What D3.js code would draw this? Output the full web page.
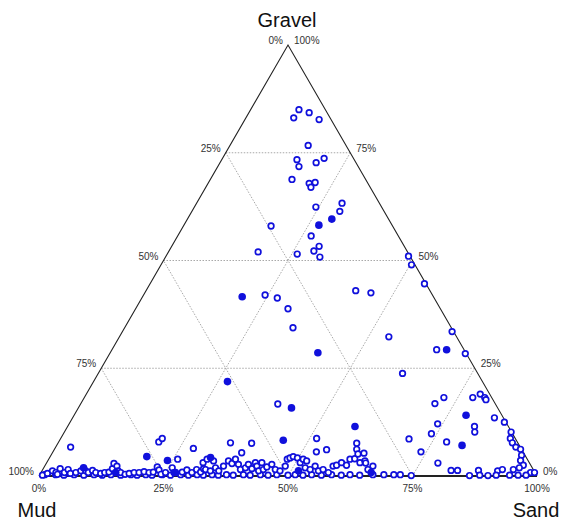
<!DOCTYPE html>
<html>
<head>
<meta charset="utf-8">
<script src="https://cdn.jsdelivr.net/npm/d3@7/dist/d3.min.js"></script>
<style>
  html, body { margin: 0; padding: 0; background: #fff; }
  svg { display: block; }
  text { font-family: "Liberation Sans", Arial, sans-serif; }
</style>
</head>
<body>
<svg id="chart" width="561" height="521"></svg>
<script>
// Sample compositions as [sand %, gravel %]; mud % = 100 - sand - gravel.
const openUpper = [
  [9.7,85.0],[12.1,84.3],[9.6,83.1],[14.9,82.7],[15.7,76.7],[15.1,73.4],[16.3,71.8],
  [19.3,72.7],[20.4,73.7],[16.4,68.8],[20.3,67.9],[21.4,68.1],[21.1,67.0],[29.2,63.3],
  [29.7,61.4],[24.4,62.4],[17.6,58.0],[26.8,55.7],[29.6,53.3],[29.1,52.2],[31.0,50.8],
  [26.1,51.5],[18.0,52.0],[24.4,42.0],[27.2,41.3],[30.6,38.8],[33.8,34.4],[42.1,43.0],
  [45.4,42.5]
];
const openSandSide = [
  [48.7,51.0],[50.3,49.0],[55.1,44.6],[66.2,33.5],[71.4,28.4],[54.1,32.3],[65.2,29.3],
  [61.1,23.8],[71.1,16.8],[72.2,18.2],[78.0,18.2],[79.1,19.0],[80.4,18.2],[80.9,17.7],
  [84.7,13.5],[87.2,12.5],[74.0,12.1],[73.9,9.8],[81.7,11.5],[82.4,10.2],[70.0,8.6],
  [77.9,7.9],[73.9,5.6],[78.6,3.0],[89.7,10.2],[90.3,8.7],[91.2,7.7],[92.4,6.7],
  [93.6,6.2],[94.5,4.8],[94.9,3.6],[96.0,2.5],[82.1,1.3],[83.4,1.3],[87.6,1.3],
  [91.5,1.2],[92.3,1.5],[94.5,1.5],[95.5,1.9],[98.3,0.8],[99.1,0.8],[66.9,0.3],
  [69.1,0.3],[71.1,0.3],[72.4,0.3],[74.7,0.1],[86.4,0.1],[88.4,0.2],[90.1,0.1],
  [91.7,0.2],[94.4,0.2],[96.1,0.2],[97.7,0.2]
];
const openMiddle = [
  [39.6,16.7],[51.4,8.7],[52.9,5.6],[54.7,6.1],[60.0,7.6],[60.7,6.2],[61.5,5.1],
  [62.6,5.3],[64.1,3.0],[38.9,7.6],[34.6,7.7],[38.0,5.4],[27.8,6.4],[25.9,3.9],
  [20.1,7.9],[20.4,8.7],[3.0,6.7]
];
const openMudSide = [
  [0.6,0.2],[1.4,0.6],[2.1,1.2],[3.0,0.8],[3.4,1.7],[3.5,0.4],[4.7,0.8],[5.1,1.5],
  [6.0,0.6],[7.0,0.8],[7.8,1.2],[8.8,1.2],[9.5,0.8],[10.1,1.3],[11.0,0.8],[12.1,0.6],
  [12.8,0.8],[13.6,0.9],[13.9,1.7],[13.6,2.9],[14.5,2.3],[15.3,1.2],[16.0,0.8],
  [17.1,0.4],[17.8,0.6],[18.7,0.8],[19.7,0.8],[20.6,1.0],[21.7,0.8],[22.5,0.9],
  [22.7,2.1],[23.4,1.4],[24.3,0.4],[25.0,0.8],[25.8,1.9],[26.7,0.8],[28.3,0.9],
  [29.0,1.4],[30.3,0.8],[30.9,1.5],[32.0,0.9],[32.2,1.7],
  [31.4,3.1],[31.8,3.9],[33.3,3.5],[34.5,1.9],[32.7,1.5],[33.8,1.2],[35.5,1.2],
  [35.9,2.3],[36.3,3.5],[37.3,2.9],[37.5,3.9],[38.7,2.7],[39.7,1.5],[40.5,1.9],
  [40.7,2.7],[41.9,1.7],[41.9,3.1],[42.6,2.3],[43.5,1.2],[44.3,1.5],[43.2,3.1],
  [44.7,2.1],[45.4,2.7],[46.7,1.5],[47.8,1.2],[48.3,2.3],[47.9,3.9],[48.3,4.2],
  [48.8,4.5],[49.8,4.2],[50.9,3.1],[51.1,3.9],[52.0,3.5],[52.5,1.9],[53.7,1.5],
  [54.3,2.3],[55.5,1.2],[56.3,1.5],[57.7,0.8],[57.9,2.3],[58.5,2.5],[59.2,3.1],
  [60.5,2.5],[60.5,3.9],[61.4,4.0],[62.9,3.1],[63.7,3.5],[65.3,1.5],[65.9,2.3]
];
const openBaseline = [
  [1.0,0.3],[3.2,0.3],[4.9,0.2],[6.9,0.3],[8.9,0.2],[10.9,0.3],[12.6,0.2],[14.3,0.3],
  [16.3,0.2],[18.3,0.3],[19.6,0.2],[21.3,0.3],[22.6,0.2],[24.6,0.3],[26.3,0.2],
  [28.3,0.3],[29.9,0.2],[31.6,0.3],[32.9,0.2],[34.6,0.3],[35.9,0.2],[37.5,0.3],
  [38.9,0.2],[40.9,0.3],[42.3,0.2],[44.3,0.3],[45.9,0.2],[47.6,0.3],[49.9,0.2],
  [51.3,0.3],[52.9,0.2],[54.6,0.3],[56.6,0.2],[58.6,0.3],[60.6,0.2],[62.3,0.3],
  [64.3,0.2]
];
const filledSamples = [
  [20.0,41.6],[27.1,58.2],[29.0,59.6],[41.7,28.6],[26.9,21.9],[67.2,29.3],[78.7,14.1],
  [81.4,7.1],[42.8,15.8],[57.7,11.5],[44.9,8.3],[32.3,4.3],[24.0,3.6],[19.4,4.5],
  [27.0,0.8],[8.0,1.9],[15.0,0.8],[51.5,1.2],[66.3,0.8]
];

// Axis annotations
const vertexNames = ["Mud", "Sand", "Gravel"];
const gridLevels = [25, 50, 75];
const leftTicks = ["0%", "25%", "50%", "75%", "100%"];     // along Gravel -> Mud edge
const rightTicks = ["100%", "75%", "50%", "25%", "0%"];    // along Gravel -> Sand edge
const bottomTicks = ["0%", "25%", "50%", "75%", "100%"];   // along Mud -> Sand edge
const tickSteps = [100, 75, 50, 25, 0];                    // gravel level of each edge tick
const bottomSteps = [0, 25, 50, 75, 100];                  // sand level of each base tick

const svg = d3.select("#chart");

// Ternary projection: gravel drives height, sand + gravel/2 drives horizontal position
const yScale = d3.scaleLinear().domain([0, 100]).range([476, 45]);
const xScale = d3.scaleLinear().domain([0, 100]).range([39, 537]);
const px = (sand, gravel) => xScale(sand + gravel / 2);
const py = (gravel) => yScale(gravel);
const pt = (sand, gravel) => [px(sand, gravel), py(gravel)];

const line = d3.line();
const BLUE = "#1010dc";

// Dotted grid lines for constant gravel, sand and mud
const grid = svg.append("g")
  .attr("fill", "none")
  .attr("stroke", "#a9a9a9")
  .attr("stroke-width", 1)
  .attr("stroke-dasharray", "1.5,1.5");
gridLevels.forEach(v => {
  grid.append("path").attr("d", line([pt(0, v), pt(100 - v, v)]));          // gravel = v
  grid.append("path").attr("d", line([pt(v, 0), pt(v, 100 - v)]));          // sand = v
  grid.append("path").attr("d", line([pt(100 - v, 0), pt(0, 100 - v)]));    // mud = v
});

// Triangle frame: thin sides, heavier Mud-Sand base
svg.append("path")
  .attr("d", line([pt(0, 0), pt(0, 100), pt(100, 0)]))
  .attr("fill", "none")
  .attr("stroke", "#222")
  .attr("stroke-width", 1.1);
svg.append("path")
  .attr("d", line([pt(0, 0), pt(100, 0)]))
  .attr("fill", "none")
  .attr("stroke", "#222")
  .attr("stroke-width", 2);

// Tick labels
const tickG = svg.append("g").attr("font-size", 10).attr("fill", "#333");
tickSteps.forEach((g, i) => {
  tickG.append("text")
    .attr("x", px(0, g) - 5).attr("y", py(g) - 1)
    .attr("text-anchor", "end")
    .text(leftTicks[i]);
  tickG.append("text")
    .attr("x", px(100 - g, g) + 6).attr("y", py(g) - 1)
    .attr("text-anchor", "start")
    .text(rightTicks[i]);
});
bottomSteps.forEach((s, i) => {
  tickG.append("text")
    .attr("x", px(s, 0)).attr("y", 492)
    .attr("text-anchor", "middle")
    .text(bottomTicks[i]);
});

// Vertex titles
const titleG = svg.append("g").attr("font-size", 20).attr("fill", "#111").attr("text-anchor", "middle");
titleG.append("text").attr("x", 37).attr("y", 517).text(vertexNames[0]);
titleG.append("text").attr("x", 536).attr("y", 517).text(vertexNames[1]);
titleG.append("text").attr("x", 287).attr("y", 27).text(vertexNames[2]);

// Samples
const openSamples = [].concat(openBaseline, openMudSide, openMiddle, openSandSide, openUpper);
svg.append("g").selectAll("circle")
  .data(openSamples)
  .join("circle")
  .attr("cx", d => px(d[0], d[1]))
  .attr("cy", d => py(d[1]))
  .attr("r", 2.8)
  .attr("fill", "#fff")
  .attr("stroke", BLUE)
  .attr("stroke-width", 1.7);

svg.append("g").selectAll("circle")
  .data(filledSamples)
  .join("circle")
  .attr("cx", d => px(d[0], d[1]))
  .attr("cy", d => py(d[1]))
  .attr("r", 3.8)
  .attr("fill", BLUE);
</script>
</body>
</html>
